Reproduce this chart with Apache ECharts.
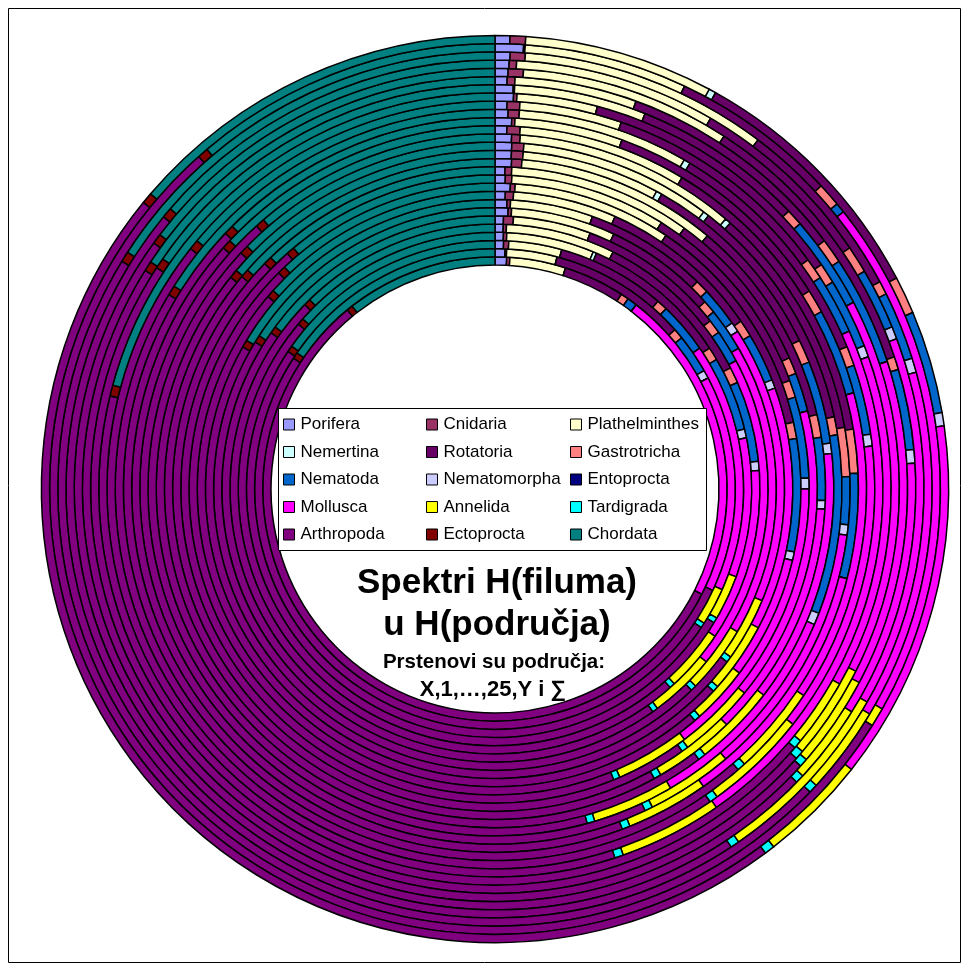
<!DOCTYPE html>
<html>
<head>
<meta charset="utf-8">
<script src="https://cdn.jsdelivr.net/npm/echarts@6/dist/echarts.min.js"></script>
<style>
  html, body { margin: 0; padding: 0; background: #ffffff; }
  #chart { width: 969px; height: 973px; }
</style>
</head>
<body>
<div id="chart"></div>
<script>
// Rings from the innermost (X) to the outermost (Σ)
const rings = ['X', '1', '2', '3', '4', '5', '6', '7', '8', '9', '10', '11', '12', '13',
  '14', '15', '16', '17', '18', '19', '20', '21', '22', '23', '24', '25', 'Y', 'Σ'];

const phyla = ['Porifera', 'Cnidaria', 'Plathelminthes', 'Nemertina', 'Rotatoria',
  'Gastrotricha', 'Nematoda', 'Nematomorpha', 'Entoprocta', 'Mollusca', 'Annelida',
  'Tardigrada', 'Arthropoda', 'Ectoprocta', 'Chordata'];

// Share of each phylum within every ring (each ring totals 360)
const porifera = [2.9, 2.4, 2.0, 1.9, 1.8, 1.8, 2.7, 2.4, 2.0, 2.9, 1.9, 1.8, 2.9, 2.8, 2.8, 2.7, 1.9, 2.6, 2.0, 1.8, 2.7, 2.6, 1.7, 1.8, 1.9, 2.0, 3.7, 1.9];
const cnidaria = [0.8, 0.4, 1.2, 0.75, 0.7, 2.1, 0.7, 0.7, 1.6, 0.9, 1.2, 1.2, 1.8, 2.0, 2.0, 1.4, 2.1, 0.5, 1.7, 1.9, 0.5, 0.2, 1.1, 2.1, 1.0, 2.0, 0.2, 2.0];
const plathelminthes = [14.0, 12.2, 12.4, 19.85, 24.0, 16.5, 21.6, 16.6, 20.2, 30.2, 28.9, 33.0, 35.3, 23.7, 32.2, 36.4, 27.0, 16.9, 26.2, 15.3, 11.8, 19.0, 17.2, 29.1, 27.3, 33.0, 21.3, 24.3];
const nemertina = [0, 0, 0, 0.8, 0, 0, 0, 0, 0, 0, 0, 0, 0, 1.0, 1.0, 1.0, 0, 0, 1.0, 0, 0, 0, 0, 0, 0, 0, 0, 0.9];
const rotatoria = [15.3, 33.5, 25.4, 33.4, 36.3, 31.6, 23.3, 24.6, 31.9, 43.4, 37.8, 30.0, 37.0, 34.5, 40.0, 38.5, 49.5, 37.8, 37.1, 34.8, 40.5, 24.8, 33.0, 38.7, 25.6, 24.7, 21.9, 33.2];
const gastrotricha = [2.0, 2.5, 2.5, 3.0, 3.5, 3.0, 2.7, 2.7, 3.3, 3.1, 3.2, 3.0, 4.0, 4.0, 3.0, 8.0, 7.0, 3.7, 3.0, 3.2, 3.0, 2.4, 3.5, 1.8, 3.7, 1.8, 3.1, 4.8];
const nematoda = [2.5, 9.5, 12.0, 16.8, 17.7, 7.0, 9.0, 8.0, 9.5, 21.4, 15.0, 7.0, 11.0, 14.2, 30.0, 7.8, 16.8, 13.5, 10.7, 9.0, 10.3, 13.5, 15.5, 11.1, 8.3, 9.1, 1.3, 13.2];
const nematomorpha = [0, 2.0, 0, 2.0, 2.0, 0, 0, 2.0, 1.7, 1.6, 2.0, 0, 1.5, 1.8, 2.0, 1.7, 0, 0, 1.8, 0, 1.7, 0, 0, 1.9, 1.7, 1.9, 0, 1.7];
const entoprocta = [0, 0, 0, 0, 0, 0, 0, 0, 0, 0, 0, 0, 0, 0, 0, 0, 0, 0, 0, 0, 0, 0, 0, 0, 0, 0, 0, 0];
const mollusca = [79.5, 52.5, 58.4, 31.5, 37.8, 67.3, 60.5, 55.7, 47.6, 23.5, 52.9, 53.3, 42.0, 43.5, 36.6, 42.0, 40.7, 48.8, 44.8, 79.2, 49.0, 54.3, 46.0, 35.5, 50.3, 46.5, 68.1, 46.2];
const annelida = [0, 0, 8.8, 10.2, 13.6, 14.2, 14.0, 12.8, 13.8, 11.0, 13.7, 14.0, 14.4, 14.2, 13.7, 14.2, 13.2, 14.0, 15.9, 15.5, 10.0, 13.7, 13.0, 11.0, 25.6, 11.7, 2.5, 13.9];
const tardigrada = [0, 0, 1.2, 1.2, 1.2, 1.2, 1.2, 1.2, 1.2, 1.2, 1.2, 1.2, 1.3, 1.3, 1.3, 1.3, 1.3, 1.3, 1.3, 1.3, 1.3, 1.3, 1.2, 1.2, 1.2, 1.2, 0, 1.3];
const arthropoda = [203.5, 188.0, 179.7, 188.6, 175.5, 160.2, 165.8, 172.7, 177.5, 175.8, 160.8, 169.9, 158.8, 165.7, 148.3, 162.8, 152.1, 174.4, 155.3, 146.3, 152.8, 171.4, 169.8, 171.6, 162.8, 167.5, 196.2, 165.8];
const ectoprocta = [1.5, 1.5, 1.5, 1.5, 1.5, 1.5, 1.5, 1.5, 1.5, 1.5, 1.5, 1.5, 1.5, 1.5, 1.5, 1.5, 1.5, 1.5, 1.5, 1.5, 1.6, 1.5, 1.4, 1.4, 1.4, 1.4, 1.4, 1.4];
const chordata = [38.0, 55.5, 54.9, 48.5, 44.4, 53.6, 57.0, 59.1, 48.2, 43.5, 39.9, 44.1, 48.5, 49.8, 45.6, 40.7, 46.9, 45.0, 57.7, 50.2, 74.8, 55.3, 56.6, 52.8, 49.2, 57.2, 40.3, 49.4];

const shares = [porifera, cnidaria, plathelminthes, nemertina, rotatoria, gastrotricha,
  nematoda, nematomorpha, entoprocta, mollusca, annelida, tardigrada, arthropoda,
  ectoprocta, chordata];

const palette = ['#9999FF', '#993366', '#FFFFCC', '#CCFFFF', '#660066', '#FF8080',
  '#0066CC', '#CCCCFF', '#000080', '#FF00FF', '#FFFF00', '#00FFFF', '#800080',
  '#800000', '#008080'];

const FONT = '"Liberation Sans", Arial, Helvetica, sans-serif';
const CX = 495, CY = 489;
const INNER = 224, RING = 8.2;

const series = rings.map((ring, i) => ({
  type: 'pie',
  name: ring,
  center: [CX, CY],
  radius: [INNER + RING * i, INNER + RING * (i + 1)],
  startAngle: 90,
  clockwise: true,
  silent: true,
  avoidLabelOverlap: false,
  label: { show: false },
  labelLine: { show: false },
  emphasis: { disabled: true },
  itemStyle: { borderColor: '#000', borderWidth: 1.5 },
  data: phyla.map((name, k) => ({ name, value: shares[k][i] }))
}));

// three legend columns, five entries each
const legendCols = [0, 1, 2].map(c => phyla.filter((_, k) => k % 3 === c));
const legendLeft = [278, 421, 565];
const legends = legendCols.map((names, c) => ({
  data: names,
  orient: 'vertical',
  left: legendLeft[c],
  top: 411,
  itemWidth: 11,
  itemHeight: 11,
  itemGap: 10.5,
  icon: 'rect',
  selectedMode: false,
  z: 20,
  itemStyle: { borderColor: '#000', borderWidth: 1 },
  textStyle: { fontFamily: FONT, fontSize: 17, color: '#000', padding: [0, 0, 0, 1] }
}));

const chart = echarts.init(document.getElementById('chart'), null, { renderer: 'canvas' });
chart.setOption({
  animation: false,
  backgroundColor: '#fff',
  color: palette,
  legend: legends,
  series: series,
  graphic: [
    { type: 'rect', z: 0, shape: { x: 8.5, y: 8.5, width: 952, height: 954 },
      style: { fill: null, stroke: '#000', lineWidth: 1 } },
    { type: 'rect', z: 15, shape: { x: 278.5, y: 408.5, width: 428, height: 142 },
      style: { fill: '#fff', stroke: '#000', lineWidth: 1 } },
    { type: 'text', z: 15, x: 497, y: 583,
      style: { text: 'Spektri H(filuma)', fontFamily: FONT, fontWeight: 'bold', fontSize: 35,
        fill: '#000', textAlign: 'center', textVerticalAlign: 'middle' } },
    { type: 'text', z: 15, x: 497, y: 625,
      style: { text: 'u H(područja)', fontFamily: FONT, fontWeight: 'bold', fontSize: 35,
        fill: '#000', textAlign: 'center', textVerticalAlign: 'middle' } },
    { type: 'text', z: 15, x: 494, y: 662,
      style: { text: 'Prstenovi su područja:', fontFamily: FONT, fontWeight: 'bold', fontSize: 20.5,
        fill: '#000', textAlign: 'center', textVerticalAlign: 'middle' } },
    { type: 'text', z: 15, x: 493, y: 690,
      style: { text: 'X,1,…,25,Y i ∑', fontFamily: FONT, fontWeight: 'bold', fontSize: 22,
        fill: '#000', textAlign: 'center', textVerticalAlign: 'middle' } }
  ]
});
</script>
</body>
</html>
